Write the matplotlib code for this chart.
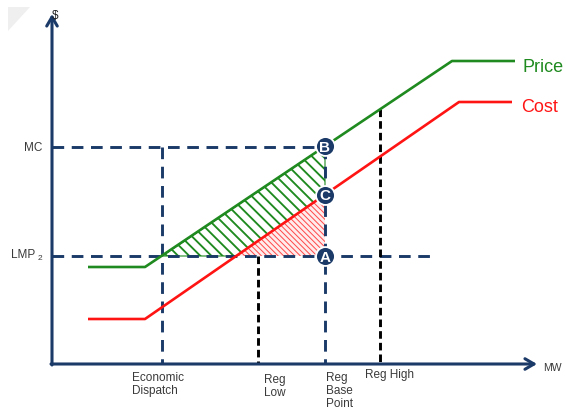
import numpy as np
import matplotlib
matplotlib.use("Agg")
import matplotlib.pyplot as plt
from matplotlib.patches import Polygon

# ---- data (chart units: x = MW, y = $) ----
price_x = [88, 145, 452, 515]
price_y = [142, 142, 348, 348]
cost_x = [88, 145, 459, 512]
cost_y = [90, 90, 307, 307]

MC = 262
LMP2 = 153
x_econ = 162
x_reg_low = 258
x_reg_base = 325
x_reg_high = 380

origin = (52, 45)
x_axis_end = 537
y_axis_end = 395
lmp_line_end = 430

x_labels = ["Economic\nDispatch", "Reg\nLow", "Reg\nBase\nPoint", "Reg High"]
x_label_pos = [132, 264, 326, 365]
x_label_top = [372, 374, 372, 369]

NAVY = "#1b3a68"
GREEN = "#1f8a1f"
RED = "#ff1414"
TXT = "#3a3a3a"

plt.rcParams["font.family"] = ["Liberation Sans", "DejaVu Sans"]

fig = plt.figure(figsize=(5.66, 4.10), dpi=100)
ax = fig.add_axes([0, 0, 1, 1])
ax.set_xlim(0, 566)
ax.set_ylim(0, 410)
ax.axis("off")

def py(v):
    return 410 - v

# faint corner artifact
ax.add_patch(Polygon([(8, py(8)), (30, py(8)), (8, py(32))], closed=True,
                     facecolor="#efefef", edgecolor="none", zorder=0))

price = lambda x: np.interp(x, price_x, price_y)
cost = lambda x: np.interp(x, cost_x, cost_y)

# intersection of cost with LMP2
xs = np.linspace(cost_x[1], cost_x[2], 2001)
x_cross = xs[np.argmin(np.abs(cost(xs) - LMP2))]

# hatched areas
green_poly = [(x_econ, LMP2), (x_reg_base, price(x_reg_base)),
              (x_reg_base, cost(x_reg_base)), (x_cross, LMP2)]
red_poly = [(x_cross, LMP2), (x_reg_base, cost(x_reg_base)), (x_reg_base, LMP2)]

plt.rcParams["hatch.linewidth"] = 0.7
rp = Polygon(red_poly, closed=True, facecolor="#ffecec", edgecolor="#ff4848",
             hatch="\\" * 6, linewidth=0, zorder=1)
ax.add_patch(rp)
plt.rcParams["hatch.linewidth"] = 1.35
gp = Polygon(green_poly, closed=True, facecolor="white", edgecolor=GREEN,
             hatch="\\" * 3, linewidth=0.8, zorder=1)
ax.add_patch(gp)
try:
    rp.set_hatch_linewidth(0.7)
    gp.set_hatch_linewidth(1.35)
except Exception:
    pass
# thin dark outline along the top of the green area
ax.plot([x_econ, x_reg_base], [LMP2, price(x_reg_base)], color="#1d5a3a", lw=0.8, zorder=1.5)

# dashed guide lines
navy_ls = (0, (4.0, 2.6))
black_ls = (0, (2.6, 1.4))
lw = 2.1
ax.plot([origin[0], x_reg_base], [MC, MC], color=NAVY, lw=lw, ls=navy_ls, zorder=2)
ax.plot([origin[0], lmp_line_end], [LMP2, LMP2], color=NAVY, lw=lw, ls=navy_ls, zorder=2)
ax.plot([x_econ, x_econ], [MC, origin[1]], color=NAVY, lw=lw, ls=navy_ls, zorder=2)
ax.plot([x_reg_base, x_reg_base], [MC, origin[1]], color=NAVY, lw=lw, ls=navy_ls, zorder=2)
ax.plot([x_reg_low, x_reg_low], [LMP2, origin[1]], color="black", lw=lw, ls=black_ls, zorder=2)
ax.plot([x_reg_high, x_reg_high], [price(x_reg_high), origin[1]], color="black", lw=lw,
        ls=black_ls, zorder=2)

# price / cost curves
ax.plot(price_x, price_y, color=GREEN, lw=1.9, zorder=3, solid_capstyle="butt")
ax.plot(cost_x, cost_y, color=RED, lw=1.9, zorder=3, solid_capstyle="butt")

# axes arrows
arrow = dict(arrowstyle="->,head_length=0.65,head_width=0.38", color=NAVY, lw=2.2,
             shrinkA=0, shrinkB=0)
ax.annotate("", xy=(origin[0], y_axis_end), xytext=(origin[0], origin[1] - 1),
            arrowprops=arrow, zorder=4)
ax.annotate("", xy=(x_axis_end, origin[1]), xytext=(origin[0] - 1, origin[1]),
            arrowprops=arrow, zorder=4)

# labelled points
pts = [("B", x_reg_base, price(x_reg_base)),
       ("C", x_reg_base, cost(x_reg_base)),
       ("A", x_reg_base, LMP2)]
for lab, x, y in pts:
    ax.scatter([x], [y], s=185, color=NAVY, edgecolor="white", linewidth=1.3, zorder=5)
    ax.text(x, y - 0.5, lab, color="white", fontsize=11, fontweight="bold",
            ha="center", va="center", zorder=6)

# text
ax.text(55, py(16), "$", fontsize=8.5, color="#222222", ha="center", va="center", zorder=5)
ax.text(543, py(368), "MW", fontsize=7.5, color=TXT, ha="left", va="center")
ax.text(42, MC, "MC", fontsize=8.5, color=TXT, ha="right", va="center")
ax.text(35, py(255), "LMP", fontsize=8.5, color=TXT, ha="right", va="center")
ax.text(38, py(258), "2", fontsize=6, color=TXT, ha="left", va="center")
for lab, x, t in zip(x_labels, x_label_pos, x_label_top):
    ax.text(x, py(t), lab, fontsize=8.5, color=TXT, ha="left", va="top",
            linespacing=1.12)
ax.text(523, py(67), "Price", fontsize=13, color=GREEN, ha="left", va="center")
ax.text(521, py(107), "Cost", fontsize=13, color=RED, ha="left", va="center")

fig.savefig("out.png", dpi=100)
